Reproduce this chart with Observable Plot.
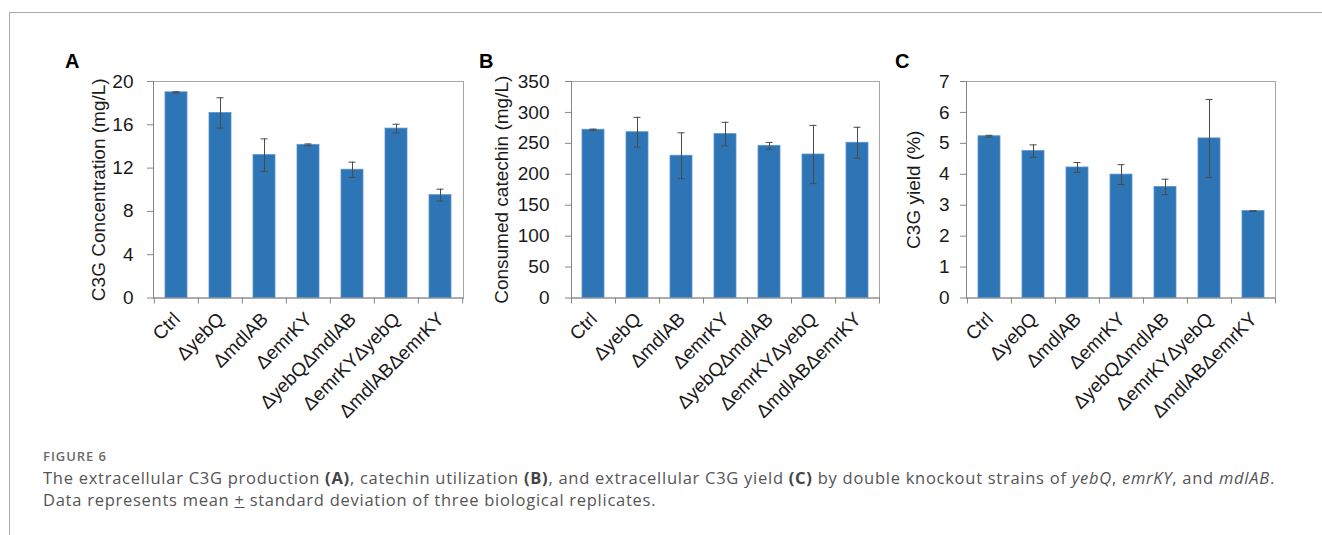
<!DOCTYPE html>
<html>
<head>
<meta charset="utf-8">
<script src="https://cdn.jsdelivr.net/npm/d3@7"></script>
<script src="https://cdn.jsdelivr.net/npm/@observablehq/plot@0.6"></script>
<style>
  body { margin: 0; background: #fff; }
  #wrap { position: relative; width: 1322px; height: 535px; overflow: hidden; background: #fff; }
  #frame { position: absolute; left: 9px; top: 12px; width: 1400px; height: 600px; border-top: 1px solid #a9a9a9; border-left: 1px solid #a9a9a9; box-sizing: border-box; }
  .panel { position: absolute; font-family: "Liberation Sans", Arial, sans-serif; font-weight: bold; font-size: 20px; line-height: 20px; color: #000; }
  .chart { position: absolute; top: 0; }
  .cap { position: absolute; left: 43px; font-family: "Open Sans", sans-serif; white-space: nowrap; }
  #fig { top: 448px; font-size: 13px; line-height: 16px; font-weight: 600; color: #6b6b6b; }
  #l1 { top: 467px; font-size: 16.5px; line-height: 21px; color: #555; }
  #l2 { top: 488.5px; font-size: 16.5px; line-height: 21px; color: #555; }
  .cap b { color: #444; }
</style>
</head>
<body>
<div id="wrap">
  <div id="frame"></div>
  <div class="panel" style="left:65px;top:51px">A</div>
  <div class="panel" style="left:479px;top:51px">B</div>
  <div class="panel" style="left:895px;top:51px">C</div>
  <div id="chartA" class="chart" style="left:0px"></div>
  <div id="chartB" class="chart" style="left:470px"></div>
  <div id="chartC" class="chart" style="left:880px"></div>
  <div id="fig" class="cap">FIGURE 6</div>
  <div id="l1" class="cap">The extracellular C3G production <b>(A)</b>, catechin utilization <b>(B)</b>, and extracellular C3G yield <b>(C)</b> by double knockout strains of <i>yebQ</i>, <i>emrKY</i>, and <i>mdlAB</i>.</div>
  <div id="l2" class="cap">Data represents mean <span style="text-decoration:underline">+</span> standard deviation of three biological replicates.</div>
</div>
<script>
// ---- data ----
const strains = ["Ctrl", "ΔyebQ", "ΔmdlAB", "ΔemrKY", "ΔyebQΔmdlAB", "ΔemrKYΔyebQ", "ΔmdlABΔemrKY"];

const c3gConc   = [19.0, 17.1, 13.2, 14.15, 11.85, 15.65, 9.5];
const c3gConcSd = [0.05, 1.4, 1.5, 0.08, 0.7, 0.4, 0.55];

const catechin   = [272, 268, 230, 265, 246, 232, 251];
const catechinSd = [1, 24, 37, 19, 5.5, 47, 25];

const c3gYield   = [5.23, 4.75, 4.22, 3.99, 3.59, 5.16, 2.81];
const c3gYieldSd = [0.03, 0.2, 0.16, 0.32, 0.25, 1.26, 0.01];

const ticksA = [0, 4, 8, 12, 16, 20];
const ticksB = [0, 50, 100, 150, 200, 250, 300, 350];
const ticksC = [0, 1, 2, 3, 4, 5, 6, 7];

const labelA = "C3G Concentration (mg/L)";
const labelB = "Consumed catechin (mg/L)";
const labelC = "C3G yield (%)";

// ---- chart builder ----
const FONT = "'Liberation Sans', Arial, sans-serif";
function makeChart({values, sd, ticks, label, labelDx, tickPadding, width, marginLeft, marginRight}) {
  const data = strains.map((s, i) => ({s, v: values[i], lo: values[i] - sd[i], hi: values[i] + sd[i]}));
  const plotW = width - marginLeft - marginRight;
  const step = plotW / strains.length;
  const axisColor = "#868686";
  const errColor = "#4a4a4a";
  return Plot.plot({
    width, height: 430,
    marginTop: 81, marginBottom: 132.5, marginLeft, marginRight,
    style: {background: "transparent", fontFamily: FONT, fontSize: "19px", color: "#1a1a1a", overflow: "visible"},
    x: {domain: strains, paddingInner: 0.5, paddingOuter: 0.25, axis: null},
    y: {domain: [0, ticks[ticks.length - 1]], axis: null},
    marks: [
      Plot.frame({stroke: "#a6a6a6"}),
      Plot.barY(data, {x: "s", y: "v", fill: "#2e75b6", stroke: "#5b95cf", strokeWidth: 0.8}),
      Plot.ruleX(data, {x: "s", y1: "lo", y2: "hi", stroke: errColor, strokeWidth: 1}),
      Plot.tickY(data, {x: "s", y: "hi", stroke: errColor, insetLeft: 7.5, insetRight: 7.5}),
      Plot.tickY(data, {x: "s", y: "lo", stroke: errColor, insetLeft: 7.5, insetRight: 7.5}),
      Plot.frame({anchor: "left", stroke: axisColor}),
      Plot.frame({anchor: "bottom", stroke: axisColor}),
      Plot.axisY(ticks, {tickSize: 6, tickPadding, stroke: axisColor, fill: "#1a1a1a", fontSize: 19, label: null}),
      Plot.axisX(strains, {tickSize: 6, tickFormat: () => "", dx: -step / 2, stroke: axisColor, label: null}),
      Plot.axisX([strains[strains.length - 1]], {tickSize: 6, tickFormat: () => "", dx: step / 2, stroke: axisColor, label: null}),
      Plot.axisX(strains, {tickSize: 0, tickRotate: -45, tickPadding: 18, dx: 0.5, fill: "#1a1a1a", fontSize: 19, label: null}),
      Plot.text([label], {frameAnchor: "left", textAnchor: "middle", lineAnchor: "middle", dx: labelDx, rotate: -90, text: d => d, fontSize: 19, fill: "#1a1a1a"})
    ]
  });
}

document.getElementById("chartA").append(makeChart({
  values: c3gConc, sd: c3gConcSd, ticks: ticksA, label: labelA, labelDx: -55, tickPadding: 14,
  width: 470, marginLeft: 153, marginRight: 7
}));
document.getElementById("chartB").append(makeChart({
  values: catechin, sd: catechinSd, ticks: ticksB, label: labelB, labelDx: -70, tickPadding: 16,
  width: 410, marginLeft: 101, marginRight: 1
}));
document.getElementById("chartC").append(makeChart({
  values: c3gYield, sd: c3gYieldSd, ticks: ticksC, label: labelC, labelDx: -53, tickPadding: 11,
  width: 442, marginLeft: 86, marginRight: 47
}));

// stretch caption lines to the widths seen in the reference
function spacingFor(id, target) {
  const el = document.getElementById(id);
  const w = el.getBoundingClientRect().width;
  return (target - w) / el.textContent.length;
}
const sFig = spacingFor("fig", 64);
document.getElementById("fig").style.letterSpacing = sFig + "px";
const s1 = spacingFor("l1", 1232);
document.getElementById("l1").style.letterSpacing = s1 + "px";
document.getElementById("l2").style.letterSpacing = s1 + "px";
</script>
</body>
</html>
